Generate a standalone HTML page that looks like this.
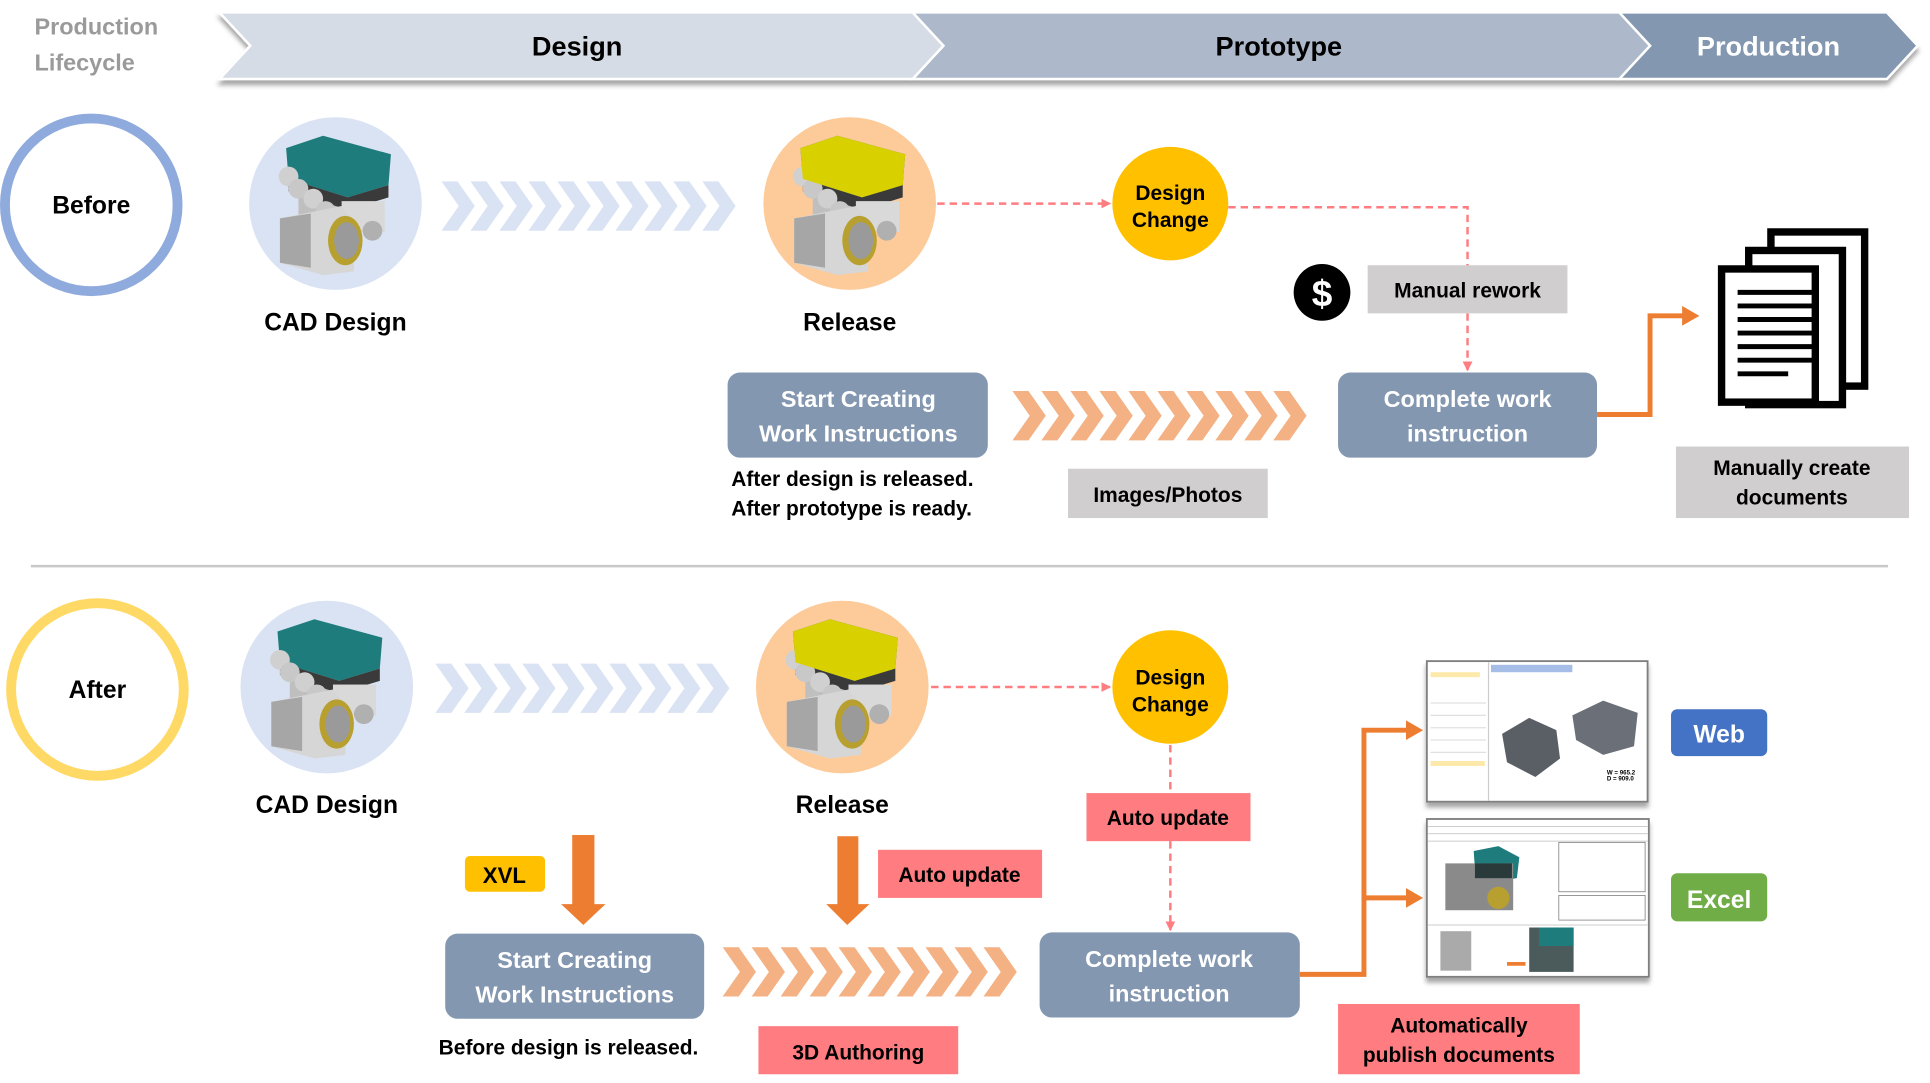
<!DOCTYPE html>
<html><head><meta charset="utf-8"><style>
html,body{margin:0;padding:0;background:#fff;}
svg{display:block;}
text{font-family:"Liberation Sans",sans-serif;font-weight:bold;}
</style></head><body>
<svg width="1930" height="1083" viewBox="0 0 1565 878" xmlns="http://www.w3.org/2000/svg">
<defs>
<polygon id="ch" points="0,0 13,0 27,20 13,40 0,40 14,20"/>
<marker id="ar" markerWidth="8" markerHeight="8" refX="7" refY="4" orient="auto" markerUnits="userSpaceOnUse"><path d="M0,0 L8,4 L0,8 Z" fill="#ff7c80"/></marker>
<marker id="ao" markerWidth="14" markerHeight="16" refX="2" refY="8" orient="auto" markerUnits="userSpaceOnUse"><path d="M0,0 L14,8 L0,16 Z" fill="#ed7d31"/></marker>
<filter id="sh" x="-5%" y="-20%" width="110%" height="160%"><feDropShadow dx="0" dy="4" stdDeviation="2" flood-color="#000" flood-opacity="0.35"/></filter>
<g id="eng">
  <rect x="-30" y="-18" width="55" height="40" fill="#bfbfbf"/>
  <polygon points="-40,-45 -10,-55 45,-40 43,-15 10,-5 -38,-20" fill="#1f7c7c"/>
  <polygon points="-38,-20 10,-5 43,-15 43,-5 10,5 -38,-10" fill="#3a3a3a"/>
  <rect x="5" y="-2" width="35" height="25" fill="#d9d9d9"/>
  <circle cx="-38" cy="-22" r="8" fill="#d0d0d0"/><circle cx="-30" cy="-12" r="8" fill="#c8c8c8"/>
  <circle cx="-18" cy="-4" r="8" fill="#d0d0d0"/><circle cx="-8" cy="6" r="8" fill="#c8c8c8"/>
  <polygon points="-45,12 5,2 15,15 15,55 -10,58 -45,48" fill="#d6d6d6"/>
  <polygon points="-45,12 -20,8 -20,52 -45,48" fill="#a6a6a6"/>
  <ellipse cx="8" cy="30" rx="14" ry="20" fill="#b8a030"/>
  <ellipse cx="9" cy="30" rx="10" ry="15" fill="#9a9a9a"/>
  <circle cx="30" cy="22" r="8" fill="#b0b0b0"/>
</g>
</defs>

<!-- header -->
<text x="28" y="28" font-size="19" fill="#9a9a9a">Production</text>
<text x="28" y="57" font-size="19" fill="#9a9a9a">Lifecycle</text>
<g filter="url(#sh)">
<polygon points="1313,10 1530,10 1555,37 1530,64 1313,64 1338,37" fill="#8497b0" stroke="#fff" stroke-width="2"/>
<polygon points="740,10 1313,10 1338,37 1313,64 740,64 765,37" fill="#adb9ca" stroke="#fff" stroke-width="2"/>
<polygon points="178,10 740,10 765,37 740,64 178,64 203,37" fill="#d6dce5" stroke="#fff" stroke-width="2"/>
</g>
<text x="468" y="45" font-size="22" text-anchor="middle" fill="#000">Design</text>
<text x="1037" y="45" font-size="22" text-anchor="middle" fill="#000">Prototype</text>
<text x="1434" y="45" font-size="22" text-anchor="middle" fill="#fff">Production</text>

<!-- BEFORE -->
<circle cx="74" cy="166" r="70" fill="none" stroke="#8faadc" stroke-width="8"/>
<text x="74" y="173" font-size="20" text-anchor="middle">Before</text>
<circle cx="272" cy="165" r="70" fill="#dae3f3"/>
<use href="#eng" x="272" y="165"/>
<text x="272" y="268" font-size="20" text-anchor="middle">CAD Design</text>
<g fill="#dae3f3">
<use href="#ch" x="358" y="147"/><use href="#ch" x="381.5" y="147"/><use href="#ch" x="405" y="147"/><use href="#ch" x="428.5" y="147"/><use href="#ch" x="452" y="147"/><use href="#ch" x="475.5" y="147"/><use href="#ch" x="499" y="147"/><use href="#ch" x="522.5" y="147"/><use href="#ch" x="546" y="147"/><use href="#ch" x="569.5" y="147"/>
</g>
<circle cx="689" cy="165" r="70" fill="#fdcb99"/>
<g transform="translate(689,165)"><use href="#eng"/></g>
<polygon points="649,-45 679,-55 734,-40 732,-15 699,-5 651,-20" fill="#e6d400" transform="translate(0,165) translate(0,0)" opacity="0"/>
<g transform="translate(689,165)"><polygon points="-40,-45 -10,-55 45,-40 43,-15 10,-5 -38,-20" fill="#d9d000"/></g>
<text x="689" y="268" font-size="20" text-anchor="middle">Release</text>

<line x1="760" y1="165" x2="900" y2="165" stroke="#ff7c80" stroke-width="2" stroke-dasharray="6,4" marker-end="url(#ar)"/>
<ellipse cx="949" cy="165" rx="47" ry="46" fill="#ffc000"/>
<text x="949" y="162" font-size="17" text-anchor="middle">Design</text>
<text x="949" y="184" font-size="17" text-anchor="middle">Change</text>
<polyline points="996,168 1190,168 1190,300" fill="none" stroke="#ff7c80" stroke-width="2" stroke-dasharray="6,4" marker-end="url(#ar)"/>
<rect x="1109" y="215" width="162" height="39" fill="#d0cece"/>
<text x="1190" y="241" font-size="17" text-anchor="middle">Manual rework</text>
<circle cx="1072" cy="237" r="23" fill="#000"/>
<text x="1072" y="248" font-size="30" text-anchor="middle" fill="#fff">$</text>

<rect x="590" y="302" width="211" height="69" rx="10" fill="#8497b0"/>
<text x="696" y="330" font-size="19" text-anchor="middle" fill="#fff">Start Creating</text>
<text x="696" y="358" font-size="19" text-anchor="middle" fill="#fff">Work Instructions</text>
<text x="593" y="394" font-size="17">After design is released.</text>
<text x="593" y="418" font-size="17">After prototype is ready.</text>
<g fill="#f4b183">
<use href="#ch" x="821" y="317"/><use href="#ch" x="844.5" y="317"/><use href="#ch" x="868" y="317"/><use href="#ch" x="891.5" y="317"/><use href="#ch" x="915" y="317"/><use href="#ch" x="938.5" y="317"/><use href="#ch" x="962" y="317"/><use href="#ch" x="985.5" y="317"/><use href="#ch" x="1009" y="317"/><use href="#ch" x="1032.5" y="317"/>
</g>
<rect x="866" y="380" width="162" height="40" fill="#d0cece"/>
<text x="947" y="407" font-size="17" text-anchor="middle">Images/Photos</text>
<rect x="1085" y="302" width="210" height="69" rx="10" fill="#8497b0"/>
<text x="1190" y="330" font-size="19" text-anchor="middle" fill="#fff">Complete work</text>
<text x="1190" y="358" font-size="19" text-anchor="middle" fill="#fff">instruction</text>
<polyline points="1295,336 1338,336 1338,256 1366,256" fill="none" stroke="#ed7d31" stroke-width="4" marker-end="url(#ao)"/>
<!-- documents -->
<g fill="#fff" stroke="#000" stroke-width="6">
<rect x="1436" y="188" width="76" height="125"/>
<rect x="1418" y="203" width="76" height="125" />
<rect x="1396" y="218" width="76" height="108"/>
</g>
<g stroke="#000" stroke-width="4">
<line x1="1409" y1="237" x2="1470" y2="237"/><line x1="1409" y1="248" x2="1470" y2="248"/><line x1="1409" y1="259" x2="1470" y2="259"/><line x1="1409" y1="270" x2="1470" y2="270"/><line x1="1409" y1="281" x2="1470" y2="281"/><line x1="1409" y1="292" x2="1470" y2="292"/><line x1="1409" y1="303" x2="1450" y2="303"/>
</g>
<rect x="1359" y="362" width="189" height="58" fill="#d0cece"/>
<text x="1453" y="385" font-size="17" text-anchor="middle">Manually create</text>
<text x="1453" y="409" font-size="17" text-anchor="middle">documents</text>

<line x1="25" y1="459" x2="1531" y2="459" stroke="#c8c8c8" stroke-width="2"/>

<!-- AFTER -->
<circle cx="79" cy="559" r="70" fill="none" stroke="#ffd966" stroke-width="8"/>
<text x="79" y="566" font-size="20" text-anchor="middle">After</text>
<circle cx="265" cy="557" r="70" fill="#dae3f3"/>
<use href="#eng" x="265" y="557"/>
<text x="265" y="659" font-size="20" text-anchor="middle">CAD Design</text>
<g fill="#dae3f3">
<use href="#ch" x="353" y="538"/><use href="#ch" x="376.5" y="538"/><use href="#ch" x="400" y="538"/><use href="#ch" x="423.5" y="538"/><use href="#ch" x="447" y="538"/><use href="#ch" x="470.5" y="538"/><use href="#ch" x="494" y="538"/><use href="#ch" x="517.5" y="538"/><use href="#ch" x="541" y="538"/><use href="#ch" x="564.5" y="538"/>
</g>
<circle cx="683" cy="557" r="70" fill="#fdcb99"/>
<use href="#eng" x="683" y="557"/>
<g transform="translate(683,557)"><polygon points="-40,-45 -10,-55 45,-40 43,-15 10,-5 -38,-20" fill="#d9d000"/></g>
<text x="683" y="659" font-size="20" text-anchor="middle">Release</text>

<line x1="755" y1="557" x2="900" y2="557" stroke="#ff7c80" stroke-width="2" stroke-dasharray="6,4" marker-end="url(#ar)"/>
<ellipse cx="949" cy="557" rx="47" ry="46" fill="#ffc000"/>
<text x="949" y="555" font-size="17" text-anchor="middle">Design</text>
<text x="949" y="577" font-size="17" text-anchor="middle">Change</text>
<line x1="949" y1="604" x2="949" y2="643" stroke="#ff7c80" stroke-width="2" stroke-dasharray="6,4"/>
<line x1="949" y1="682" x2="949" y2="754" stroke="#ff7c80" stroke-width="2" stroke-dasharray="6,4" marker-end="url(#ar)"/>
<rect x="881" y="643" width="133" height="39" fill="#ff7c80"/>
<text x="947" y="669" font-size="17" text-anchor="middle">Auto update</text>

<rect x="464" y="677" width="18" height="57" fill="#ed7d31"/>
<polygon points="455,733 491,733 473,750" fill="#ed7d31"/>
<rect x="377" y="694" width="65" height="29" rx="4" fill="#ffc000"/>
<text x="409" y="716" font-size="18" text-anchor="middle">XVL</text>
<rect x="679" y="678" width="17" height="57" fill="#ed7d31"/>
<polygon points="670,733 705,733 687,750" fill="#ed7d31"/>
<rect x="712" y="689" width="133" height="39" fill="#ff7c80"/>
<text x="778" y="715" font-size="17" text-anchor="middle">Auto update</text>

<rect x="361" y="757" width="210" height="69" rx="10" fill="#8497b0"/>
<text x="466" y="785" font-size="19" text-anchor="middle" fill="#fff">Start Creating</text>
<text x="466" y="813" font-size="19" text-anchor="middle" fill="#fff">Work Instructions</text>
<text x="461" y="855" font-size="17" text-anchor="middle">Before design is released.</text>
<g fill="#f4b183">
<use href="#ch" x="586" y="768"/><use href="#ch" x="609.5" y="768"/><use href="#ch" x="633" y="768"/><use href="#ch" x="656.5" y="768"/><use href="#ch" x="680" y="768"/><use href="#ch" x="703.5" y="768"/><use href="#ch" x="727" y="768"/><use href="#ch" x="750.5" y="768"/><use href="#ch" x="774" y="768"/><use href="#ch" x="797.5" y="768"/>
</g>
<rect x="615" y="832" width="162" height="39" fill="#ff7c80"/>
<text x="696" y="859" font-size="17" text-anchor="middle">3D Authoring</text>
<rect x="843" y="756" width="211" height="69" rx="10" fill="#8497b0"/>
<text x="948" y="784" font-size="19" text-anchor="middle" fill="#fff">Complete work</text>
<text x="948" y="812" font-size="19" text-anchor="middle" fill="#fff">instruction</text>
<polyline points="1054,790 1106,790 1106,592 1142,592" fill="none" stroke="#ed7d31" stroke-width="4" marker-end="url(#ao)"/>
<polyline points="1106,728 1142,728" fill="none" stroke="#ed7d31" stroke-width="4" marker-end="url(#ao)"/>

<!-- screenshot 1 -->
<g filter="url(#sh)">
<rect x="1157" y="536" width="179" height="114" fill="#fff" stroke="#7f7f7f" stroke-width="1.5"/>
<rect x="1157" y="664" width="180" height="128" fill="#fff" stroke="#7f7f7f" stroke-width="1.5"/>
</g>
<line x1="1207" y1="537" x2="1207" y2="649" stroke="#ccc"/>
<rect x="1160" y="545" width="40" height="4" fill="#fde9a9"/>
<rect x="1160" y="617" width="44" height="4" fill="#fde9a9"/>
<g stroke="#e0e0e0" stroke-width="1"><line x1="1160" y1="570" x2="1205" y2="570"/><line x1="1160" y1="580" x2="1205" y2="580"/><line x1="1160" y1="590" x2="1205" y2="590"/><line x1="1160" y1="600" x2="1205" y2="600"/><line x1="1160" y1="610" x2="1205" y2="610"/></g>
<rect x="1209" y="539" width="66" height="6" fill="#a6bde8"/>
<polygon points="1218,595 1240,582 1262,592 1265,615 1245,630 1222,618" fill="#5a5f66"/>
<polygon points="1275,580 1300,568 1328,578 1325,605 1300,612 1278,600" fill="#6a6f78"/>
<text x="1303" y="628" font-size="5" font-weight="normal">W = 965.2</text>
<text x="1303" y="633" font-size="5" font-weight="normal">D = 909.0</text>
<!-- screenshot 2 -->
<g stroke="#bbb" stroke-width="0.6"><line x1="1158" y1="670" x2="1336" y2="670"/><line x1="1158" y1="676" x2="1336" y2="676"/><line x1="1158" y1="682" x2="1336" y2="682"/><line x1="1158" y1="750" x2="1336" y2="750"/></g>
<rect x="1264" y="683" width="70" height="40" fill="none" stroke="#888" stroke-width="0.7"/>
<rect x="1264" y="726" width="70" height="20" fill="none" stroke="#888" stroke-width="0.7"/>
<polygon points="1195,690 1215,686 1232,695 1230,712 1212,715 1196,705" fill="#1f7c7c"/>
<rect x="1172" y="700" width="55" height="38" fill="#8a8a8a"/>
<rect x="1196" y="700" width="30" height="12" fill="#2a3a3a"/>
<circle cx="1215" cy="728" r="9" fill="#b8a030"/>
<rect x="1168" y="755" width="25" height="32" fill="#aaa"/>
<rect x="1240" y="752" width="36" height="36" fill="#4b5b5b"/>
<rect x="1248" y="752" width="28" height="15" fill="#1f7c7c"/>
<rect x="1222" y="780" width="15" height="3" fill="#ed7d31"/>

<rect x="1355" y="575" width="78" height="38" rx="5" fill="#4472c4"/>
<text x="1394" y="602" font-size="20" text-anchor="middle" fill="#fff">Web</text>
<rect x="1355" y="708" width="78" height="39" rx="5" fill="#70ad47"/>
<text x="1394" y="736" font-size="20" text-anchor="middle" fill="#fff">Excel</text>
<rect x="1085" y="814" width="196" height="57" fill="#ff7c80"/>
<text x="1183" y="837" font-size="17" text-anchor="middle">Automatically</text>
<text x="1183" y="861" font-size="17" text-anchor="middle">publish documents</text>
</svg>
</body></html>
